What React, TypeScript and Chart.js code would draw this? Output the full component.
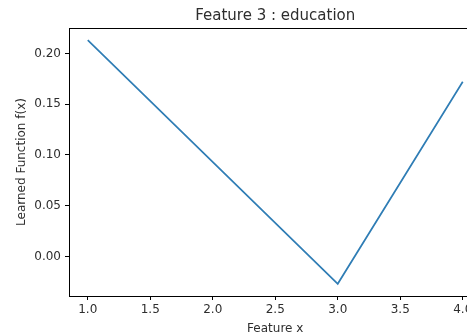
import React, { useEffect, useRef } from "react";
import { Chart, registerables } from "chart.js";

Chart.register(...registerables);

const chartTitle = "Feature 3 : education";
const xValues = [1, 3, 4];
const yValues = [0.213, -0.027, 0.172];
const xTicks = [1.0, 1.5, 2.0, 2.5, 3.0, 3.5, 4.0];
const yTicks = [0.0, 0.05, 0.1, 0.15, 0.2];

const TEXT = "#2e2e2e";
const FONT = "'DejaVu Sans', sans-serif";

const boxPlugin = {
  id: "boxPlugin",
  afterDraw(chart: any) {
    const { ctx, chartArea } = chart;
    ctx.save();
    ctx.strokeStyle = "#000";
    ctx.lineWidth = 1;
    ctx.strokeRect(
      Math.round(chartArea.left) + 0.5,
      Math.round(chartArea.top) + 0.5,
      Math.round(chartArea.right - chartArea.left),
      Math.round(chartArea.bottom - chartArea.top)
    );
    ctx.fillStyle = TEXT;
    ctx.font = `15px ${FONT}`;
    ctx.textAlign = "center";
    ctx.textBaseline = "middle";
    ctx.fillText(chartTitle, (chartArea.left + chartArea.right) / 2, 16);
    ctx.restore();
  },
};

export default function App() {
  const ref = useRef<HTMLCanvasElement>(null);
  useEffect(() => {
    const canvas = ref.current!;
    const chart = new Chart(canvas, {
      type: "line",
      data: {
        datasets: [
          {
            data: xValues.map((x, i) => ({ x, y: yValues[i] })),
            borderColor: "#2f7db5",
            borderWidth: 1.7,
            pointRadius: 0,
            fill: false,
            tension: 0,
          },
        ],
      },
      options: {
        responsive: false,
        animation: false,
        events: [],
        layout: { padding: { left: 0, right: 8.5, top: 28, bottom: 0 } },
        plugins: {
          legend: { display: false },
          tooltip: { enabled: false },
          title: { display: false },
        },
        scales: {
          x: {
            type: "linear",
            min: 0.85,
            max: 4.15,
            afterBuildTicks: (s: any) => {
              s.ticks = xTicks.map((v) => ({ value: v }));
            },
            afterFit: (s: any) => {
              s.height = 40;
            },
            grid: {
              drawOnChartArea: false,
              drawTicks: true,
              tickLength: 4,
              color: "#000",
            },
            border: { display: true, color: "#000" },
            ticks: {
              color: TEXT,
              font: { family: FONT, size: 12 },
              padding: 3,
              maxRotation: 0,
              autoSkip: false,
              callback: (v: any) => Number(v).toFixed(1),
            },
            title: {
              display: true,
              text: "Feature x",
              color: TEXT,
              font: { family: FONT, size: 12 },
              padding: { top: 1, bottom: 0 },
            },
          },
          y: {
            type: "linear",
            min: -0.039,
            max: 0.225,
            afterBuildTicks: (s: any) => {
              s.ticks = yTicks.map((v) => ({ value: v }));
            },
            afterFit: (s: any) => {
              s.width = 69;
            },
            grid: {
              drawOnChartArea: false,
              drawTicks: true,
              tickLength: 4,
              color: "#000",
            },
            border: { display: true, color: "#000" },
            ticks: {
              color: TEXT,
              font: { family: FONT, size: 12 },
              padding: 4,
              autoSkip: false,
              callback: (v: any) => Number(v).toFixed(2),
            },
            title: {
              display: true,
              text: "Learned Function f(x)",
              color: TEXT,
              font: { family: FONT, size: 12 },
              padding: { top: 15, bottom: 0 },
            },
          },
        },
      },
      plugins: [boxPlugin],
    });
    return () => chart.destroy();
  }, []);
  return (
    <div
      style={{
        position: "fixed",
        left: 0,
        top: 0,
        width: 467,
        height: 336,
        overflow: "hidden",
        background: "#fff",
      }}
    >
      <canvas ref={ref} width={490} height={336} style={{ display: "block" }} />
    </div>
  );
}
